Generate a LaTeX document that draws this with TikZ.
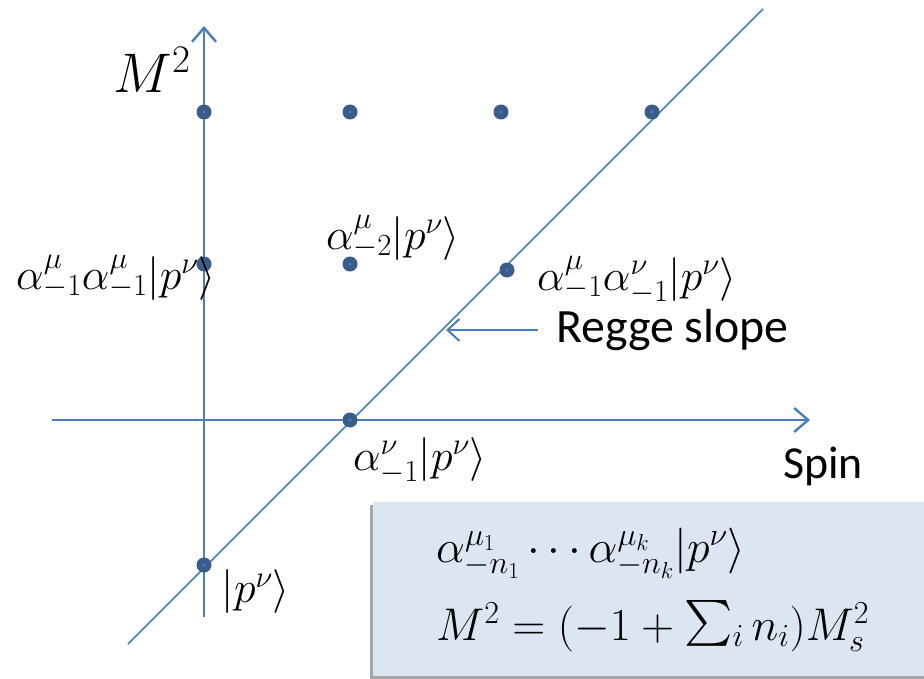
\RequirePackage{fix-cm}
\documentclass[tikz,border=0pt]{standalone}
\usepackage{graphicx}
\usepackage{fontspec}
\newfontfamily\carl{Carlito}
\usetikzlibrary{arrows.meta}
\definecolor{linec}{HTML}{4A7EBB}
\definecolor{dotc}{HTML}{385D8A}
\definecolor{boxc}{HTML}{DCE6F2}
\definecolor{shadc}{HTML}{A6A6A6}
\newcommand{\bigsumop}{\mathop{\vphantom{M}\smash{\raisebox{-10bp}{$\vcenter{\hbox{\scalebox{4.6}{$\sum$}}}$}}}\nolimits}
\tikzset{
  axis/.style={draw=linec, line width=2.4bp, -{Straight Barb[length=14bp,width=24bp,line width=2.4bp]}},
  diag/.style={draw=linec, line width=1.6bp},
  ptr/.style={draw=linec, line width=2bp, -{Straight Barb[length=12bp,width=22bp,line width=2bp]}},
  dot/.style={circle, fill=dotc, minimum size=15bp, inner sep=0pt,
    path picture={\fill[linec] (path picture bounding box.center) circle (1.6bp);}},
  lab/.style={inner sep=0pt, font=\fontsize{44}{50}\selectfont},
  slab/.style={inner sep=0pt, font=\carl\fontsize{48}{52}\selectfont},
  blab/.style={inner sep=0pt, anchor=base west, font=\fontsize{46}{52}\selectfont},
}
\begin{document}
\begin{tikzpicture}[x=1bp,y=-1bp]
\useasboundingbox (0,0) rectangle (924,679);
% box
\fill[shadc] (370,505) rectangle (924,679);
\fill[boxc] (373,502) rectangle (924,676);
% axes
\coordinate (vb) at (204,617);
\coordinate (vt) at (204,26);
\coordinate (hl) at (52,420);
\coordinate (hr) at (810,420);
\coordinate (gl) at (128,644);
\coordinate (gr) at (763,9);
\draw[axis] (vb) -- (vt);
\draw[axis] (hl) -- (hr);
\draw[diag] (gl) -- (gr);
% dots
\node[dot] (d1) at (204,112) {};
\node[dot] (d2) at (350,112) {};
\node[dot] (d3) at (501,112) {};
\node[dot] (d4) at (652,112) {};
\node[dot] (d5) at (204,264) {};
\node[dot] (d6) at (350,264) {};
\node[dot] (d7) at (507,270) {};
\node[dot] (d8) at (350,420) {};
\node[dot] (d9) at (204,565) {};
% labels
\node[inner sep=0pt, font=\fontsize{56}{60}\selectfont] (m2) at (152,70) {$M^2$};
\node[lab] (l6) at (393,238) {$\alpha^{\mu}_{-2}|p^{\nu}\rangle$};
\node[lab] (l5) at (116,278) {$\alpha^{\mu}_{-1}\alpha^{\mu}_{-1}|p^{\nu}\rangle$};
\node[lab] (l7) at (637,280) {$\alpha^{\mu}_{-1}\alpha^{\nu}_{-1}|p^{\nu}\rangle$};
\node[lab] (l8) at (420,461) {$\alpha^{\nu}_{-1}|p^{\nu}\rangle$};
\node[lab] (l9) at (256,592) {$|p^{\nu}\rangle$};
\node[slab, anchor=west] (rs) at (556,330) {Regge slope};
\node[slab, font=\carl\fontsize{46}{52}\selectfont] (sp) at (823,466) {Spin};
\coordinate (rf) at (538,330);
\coordinate (rt) at (446,330);
\draw[ptr] (rf) -- (rt);
% box text
\node[blab] (b1) at (436,562) {$\alpha^{\mu_1}_{-n_1}\cdots\alpha^{\mu_k}_{-n_k}|p^{\nu}\rangle$};
\node[blab] (b2) at (436,640) {$M^2=(-1+\bigsumop_i n_i)M_s^2$};
\end{tikzpicture}
\end{document}
